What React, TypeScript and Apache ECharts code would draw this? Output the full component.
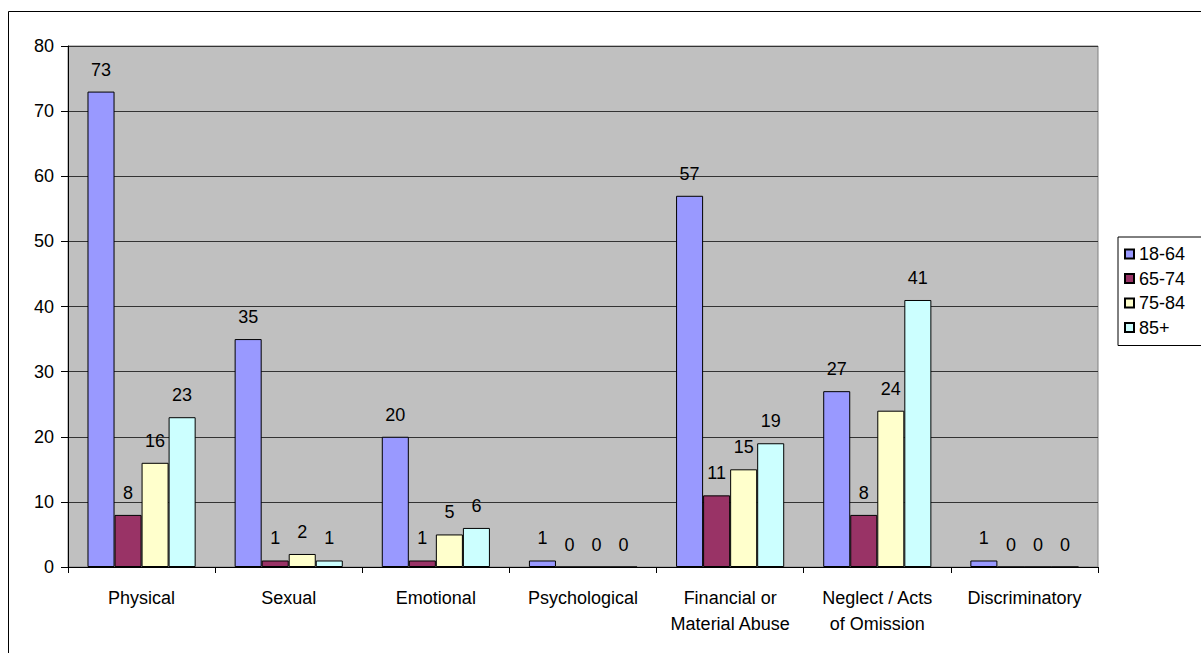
import React, { useEffect, useRef } from "react";
import * as echarts from "echarts";

const categories = [
  "Physical",
  "Sexual",
  "Emotional",
  "Psychological",
  "Financial or\nMaterial Abuse",
  "Neglect / Acts\nof Omission",
  "Discriminatory",
];
const seriesNames = ["18-64", "65-74", "75-84", "85+"];
const age18to64 = [73, 35, 20, 1, 57, 27, 1];
const age65to74 = [8, 1, 1, 0, 11, 8, 0];
const age75to84 = [16, 2, 5, 0, 15, 24, 0];
const age85plus = [23, 1, 6, 0, 19, 41, 0];
const seriesColors = ["#9999FF", "#993366", "#FFFFCC", "#CCFFFF"];

const FONT = "'Liberation Sans', Arial, sans-serif";

export default function App() {
  const ref = useRef<HTMLDivElement>(null);
  useEffect(() => {
    if (!ref.current) return;
    const chart = echarts.init(ref.current, null, { renderer: "svg" });
    const values = [age18to64, age65to74, age75to84, age85plus];
    chart.setOption({
      animation: false,
      backgroundColor: "#FFFFFF",
      textStyle: { fontFamily: FONT },
      graphic: [
        {
          type: "rect",
          shape: { x: 8.5, y: 11.5, width: 1260, height: 700 },
          style: { fill: "none", stroke: "#000000", lineWidth: 1 },
          silent: true,
          z: -10,
        },
      ],
      grid: {
        left: 68,
        right: 103,
        top: 46,
        bottom: 86,
        show: true,
        backgroundColor: "#C0C0C0",
        borderColor: "#808080",
        borderWidth: 1,
      },
      legend: {
        orient: "vertical",
        left: 1118,
        top: 237,
        data: seriesNames,
        itemWidth: 9,
        itemHeight: 9,
        itemGap: 6.5,
        padding: [8, 60, 9, 6],
        backgroundColor: "#FFFFFF",
        borderColor: "#000000",
        borderWidth: 1,
        borderRadius: 0,
        icon: "rect",
        textStyle: { fontFamily: FONT, fontSize: 18, color: "#000000" },
      },
      xAxis: {
        type: "category",
        data: categories,
        axisLine: { show: true, lineStyle: { color: "#000000", width: 1 } },
        axisTick: { show: true, length: 6, lineStyle: { color: "#000000" } },
        axisLabel: {
          fontFamily: FONT,
          fontSize: 18,
          color: "#000000",
          margin: 18,
          lineHeight: 26,
          interval: 0,
        },
      },
      yAxis: {
        type: "value",
        min: 0,
        max: 80,
        interval: 10,
        axisLine: { show: true, lineStyle: { color: "#000000", width: 1 } },
        axisTick: { show: true, length: 7, lineStyle: { color: "#000000" } },
        axisLabel: {
          fontFamily: FONT,
          fontSize: 18,
          color: "#000000",
          margin: 14,
        },
        splitLine: { show: true, lineStyle: { color: "#333333", width: 1 } },
      },
      series: seriesNames.map((name, i) => ({
        name,
        type: "bar",
        data: values[i],
        barGap: "0%",
        barCategoryGap: "26.5%",
        itemStyle: {
          color: seriesColors[i],
          borderColor: "#000000",
          borderWidth: 1,
        },
        label: {
          show: true,
          position: "top",
          distance: 13,
          fontFamily: FONT,
          fontSize: 18,
          color: "#000000",
        },
      })),
    });
    return () => chart.dispose();
  }, []);
  return (
    <div
      ref={ref}
      style={{ position: "fixed", left: 0, top: 0, width: 1201, height: 653 }}
    />
  );
}
